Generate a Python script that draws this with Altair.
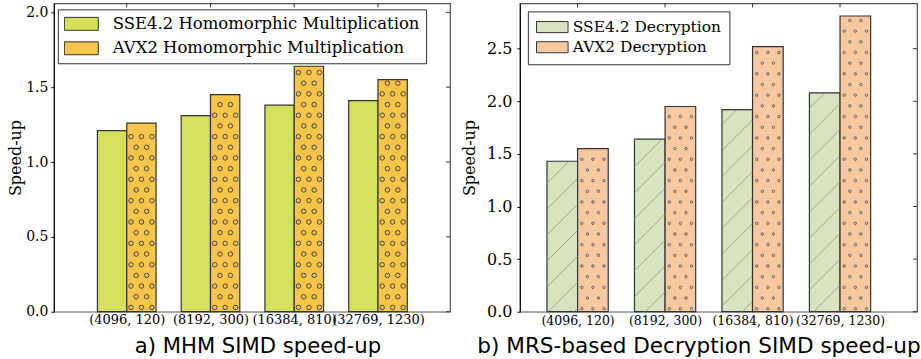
import json
import altair as alt
import pandas as pd

# ---------------- data ----------------
categories = ["(4096, 120)", "(8192, 300)", "(16384, 810)", "(32769, 1230)"]
mhm_names = ["SSE4.2 Homomorphic Multiplication", "AVX2 Homomorphic Multiplication"]
mhm_sse = [1.21, 1.31, 1.38, 1.41]
mhm_avx = [1.26, 1.45, 1.64, 1.55]
dec_names = ["SSE4.2 Decryption", "AVX2 Decryption"]
dec_sse = [1.43, 1.64, 1.92, 2.08]
dec_avx = [1.55, 1.95, 2.52, 2.81]
mhm_yticks = [0.0, 0.5, 1.0, 1.5, 2.0]
dec_yticks = [0.0, 0.5, 1.0, 1.5, 2.0, 2.5]

BW = 0.35
SERIF = "DejaVu Serif"
SANS = "DejaVu Sans"
label_expr = json.dumps(categories) + "[round(datum.value)]"


def bars_df(sse, avx, names):
    rows = []
    for i, (a, b) in enumerate(zip(sse, avx)):
        rows.append(dict(series=names[0], x0=i - BW, x1=i, v=a))
        rows.append(dict(series=names[1], x0=i, x1=i + BW, v=b))
    return pd.DataFrame(rows)


def dots_df(vals, xpx, ypx, u_even, u_odd, v0, dv, gap):
    rows = []
    for i, val in enumerate(vals):
        h = val * ypx
        r, v = 0, v0
        while v <= h - gap:
            for u in (u_even if r % 2 == 0 else u_odd):
                rows.append(dict(px=i + u / xpx, py=v / ypx))
            r += 1
            v += dv
    return pd.DataFrame(rows)


def hatch_df(vals, xmin, xpx, ypx, step):
    rows = []
    w = BW * xpx
    for i, val in enumerate(vals):
        x0 = i - BW
        h = val * ypx
        u0 = (x0 - xmin) * xpx
        for k in range(-60, 120):
            c = k * step - u0
            ua, ub = max(0.0, -c), min(w, h - c)
            if ub - ua > 0.5:
                rows.append(dict(xa=x0 + ua / xpx, ya=(ua + c) / ypx,
                                 xb=x0 + ub / xpx, yb=(ub + c) / ypx))
    return pd.DataFrame(rows)


def panel(sse, avx, names, colors, xdom, ydom, W, H, yticks, title, title_x,
          title_size, lab_size, tick_lab_size, legend_kw, ytitle_pad, ylab_pad, xlab_pad):
    xs = alt.Scale(domain=xdom, nice=False, zero=False)
    ys = alt.Scale(domain=ydom, nice=False, zero=False)
    df = bars_df(sse, avx, names)
    bars = alt.Chart(df).mark_rect(stroke="#333333", strokeWidth=1.2).encode(
        x=alt.X("x0:Q", scale=xs, axis=alt.Axis(
            values=[0, 1, 2, 3], labelExpr=label_expr, grid=False, domain=False,
            ticks=False, labelOverlap=False, labelBound=False, labelFlush=False,
            labelFont=SERIF, labelFontSize=tick_lab_size, labelColor="black",
            labelPadding=xlab_pad, labelBaseline="top",
            title=title, titleFont=SANS, titleFontSize=title_size,
            titleFontWeight="normal", titleColor="black", titleX=title_x, titleY=41,
            titleAlign="center", titleBaseline="alphabetic")),
        x2="x1:Q",
        y=alt.Y("v:Q", scale=ys, axis=alt.Axis(
            values=yticks, format=".1f", grid=False, domainColor="black",
            tickColor="black", tickSize=3, labelFont=SERIF, labelFontSize=lab_size,
            labelColor="black", labelPadding=ylab_pad,
            title="Speed-up", titleFont=SERIF, titleFontSize=16,
            titleFontWeight="normal", titleColor="black", titlePadding=ytitle_pad)),
        y2=alt.datum(0),
        color=alt.Color("series:N", scale=alt.Scale(domain=names, range=colors),
                        legend=alt.Legend(title=None, orient="none", **legend_kw,
                                          strokeColor="#333333", fillColor="white",
                                          labelFont=SERIF, labelColor="black",
                                          labelLimit=500, symbolStrokeColor="#333333",
                                          symbolStrokeWidth=1, symbolOpacity=1)),
    )
    tick_df = pd.DataFrame({"t": [0, 1, 2, 3]})
    top_ticks = alt.Chart(tick_df).mark_rule(color="#333333", strokeWidth=1).encode(
        x=alt.X("t:Q", scale=xs), y=alt.value(0), y2=alt.value(4))
    yt_df = pd.DataFrame({"t": yticks})
    right_ticks = alt.Chart(yt_df).mark_rule(color="#333333", strokeWidth=1).encode(
        y=alt.Y("t:Q", scale=ys), x=alt.value(W - 4), x2=alt.value(W))
    return bars, top_ticks, right_ticks, xs, ys


# ---------- left panel ----------
L_XDOM, L_YDOM, L_W, L_H = [-0.87, 3.86], [0, 2.06], 397, 309
l_xpx = L_W / (L_XDOM[1] - L_XDOM[0])
l_ypx = L_H / (L_YDOM[1] - L_YDOM[0])
lb, lt, lr, lxs, lys = panel(
    mhm_sse, mhm_avx, mhm_names, ["#d5e05b", "#f6c549"], L_XDOM, L_YDOM, L_W, L_H,
    mhm_yticks, "a) MHM SIMD speed-up", 204, 21.2, 14, 13,
    dict(legendX=4, legendY=6, padding=6, rowPadding=7.5, labelFontSize=16.5,
         labelOffset=14, symbolSize=1156, clipHeight=17,
         symbolType="M-1,-0.38H1V0.38H-1Z"),
    2, 3, 2)
l_dots = dots_df(mhm_avx, l_xpx, l_ypx, [4.2, 14.7, 25.2], [9.45, 19.95], 4.3, 10.7, 3)
l_circles = alt.Chart(l_dots).mark_point(
    shape="circle", filled=False, size=20, stroke="#444444", strokeWidth=1, opacity=1
).encode(x=alt.X("px:Q", scale=lxs), y=alt.Y("py:Q", scale=lys))
left = alt.layer(lb, l_circles, lt, lr).properties(width=L_W, height=L_H)

# ---------- right panel ----------
R_XDOM, R_YDOM, R_W, R_H = [-0.66, 3.88], [0, 2.93], 398, 309
r_xpx = R_W / (R_XDOM[1] - R_XDOM[0])
r_ypx = R_H / (R_YDOM[1] - R_YDOM[0])
rb, rt, rr, rxs, rys = panel(
    dec_sse, dec_avx, dec_names, ["#d8e4bf", "#f8c8a0"], R_XDOM, R_YDOM, R_W, R_H,
    dec_yticks, "b) MRS-based Decryption SIMD speed-up", 179, 21.6, 16, 12.5,
    dict(legendX=8, legendY=8, padding=8, rowPadding=3.2, labelFontSize=15.5,
         labelOffset=4, symbolSize=1000, clipHeight=15.5,
         symbolType="M-1,-0.35H1V0.35H-1Z"),
    9, 5, 3)
r_hatch = alt.Chart(hatch_df(dec_sse, R_XDOM[0], r_xpx, r_ypx, 26)).mark_rule(
    color="#8a9a78", strokeWidth=0.8).encode(
    x=alt.X("xa:Q", scale=rxs), y=alt.Y("ya:Q", scale=rys), x2="xb:Q", y2="yb:Q")
r_dots = dots_df(dec_avx, r_xpx, r_ypx, [4.2, 15.35, 26.5], [9.8, 20.9], 3, 10.7, 3)
r_points = alt.Chart(r_dots).mark_point(
    shape="circle", filled=False, size=6, stroke="#555555", strokeWidth=0.9, opacity=1
).encode(x=alt.X("px:Q", scale=rxs), y=alt.Y("py:Q", scale=rys))
right = alt.layer(rb, r_hatch, r_points, rt, rr).properties(width=R_W, height=R_H)

chart = alt.hconcat(left, right, spacing=8).resolve_scale(
    color="independent", x="independent", y="independent"
).resolve_legend(color="independent").properties(
    padding={"left": 7, "top": 1, "right": 0, "bottom": 0}, background="white"
).configure_view(stroke="#555555", strokeWidth=1.2)

chart.save("out.html", embed_options={"renderer": "svg", "actions": False})
